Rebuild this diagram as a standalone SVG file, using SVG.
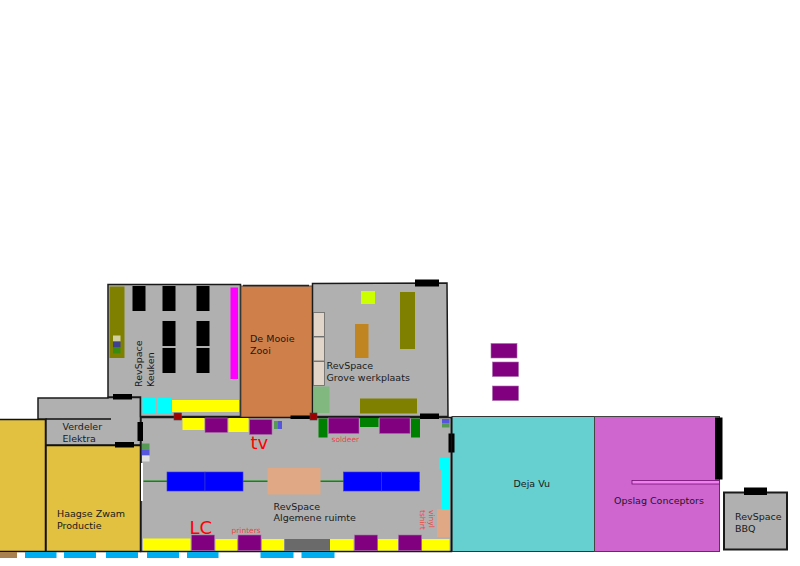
<svg xmlns="http://www.w3.org/2000/svg" width="800" height="566" viewBox="0 0 800 566">
<style>
text{font-family:"DejaVu Sans",sans-serif;font-size:9.5px;fill:#1a1a1a}
.room{fill:#b0b0b0;stroke:#1a1a1a;stroke-width:1.5}
.wall{fill:none;stroke:#111;stroke-width:1.5}
.k{fill:#000}.p{fill:#800080;stroke:#a86aa8;stroke-width:.6}.y{fill:#ff0}.c{fill:#0ff}.o{fill:#808000}.g{fill:#008000}.b{fill:#00f;stroke:#3a3ad0;stroke-width:.6}
.r{fill:#a00000;stroke:#444;stroke-width:.6}.w{fill:#00aeef}.s{fill:#e0d5c8;stroke:#666;stroke-width:.8}
.red{fill:#ee4444;font-size:7.5px}.big{fill:#ff0000;font-size:18px}
</style>
<g id="room-haagse-left"><rect x="-2" y="419.500" width="47.500" height="132" fill="#e2c040" stroke="#111" stroke-width="1.500"/></g>
<g id="room-verdeler">
<path class="room" d="M38 419V398H108V397.500H140.500V445H46V419Z"/>
<path class="wall" d="M45.500 419H111"/>
<text x="62.500" y="429.500">Verdeler</text><text x="62.500" y="442">Elektra</text>
</g>
<g id="room-haagse"><rect x="46" y="445.500" width="94.500" height="106" fill="#e2c040" stroke="#111" stroke-width="1.500"/>
<text x="57" y="516.500">Haagse Zwam</text><text x="57" y="529">Productie</text></g>
<g id="room-keuken">
<path class="room" d="M108 284.500H240.500V416.500H140.500V397H108Z"/>
<rect class="o" x="109.500" y="286.500" width="15" height="71.500"/>
<rect x="113" y="335.500" width="7.500" height="6" fill="#d0d0a0"/><rect x="113" y="341.500" width="7.500" height="6" fill="#404090"/><rect x="113" y="347.500" width="7.500" height="6" fill="#3a8a10"/>
<rect class="k" x="132.500" y="286" width="13" height="25"/><rect class="k" x="162.500" y="286" width="13" height="25"/><rect class="k" x="196.500" y="286" width="13" height="25"/>
<rect class="k" x="162.500" y="321" width="13" height="25"/><rect class="k" x="196.500" y="321" width="13" height="25"/>
<rect class="k" x="162.500" y="348" width="13" height="25"/><rect class="k" x="196.500" y="348" width="13" height="25"/>
<rect x="230.500" y="287.500" width="7.500" height="91.500" fill="#f0f"/>
<rect class="c" x="142.500" y="398" width="13.500" height="15"/><rect class="c" x="157" y="398" width="14" height="15"/><rect class="y" x="172" y="400" width="67" height="12"/>
<text transform="translate(142 387) rotate(-90)">RevSpace</text><text transform="translate(153.500 387) rotate(-90)">Keuken</text>
</g>
<g id="room-mooie-zooi"><rect x="241" y="286" width="71.500" height="132" fill="#cf7f4a" stroke="#555" stroke-width="1"/>
<path d="M243 285.500H309" stroke="#222" stroke-width="1.500"/>
<text x="250" y="342">De Mooie</text><text x="250" y="354">Zooi</text></g>
<g id="room-grove">
<path class="room" d="M312.500 283.500L447 283L448 416.500H312.500Z"/>
<rect x="361" y="291" width="14" height="13" fill="#cf0"/>
<rect class="o" x="400" y="292" width="15" height="57"/>
<rect x="355" y="324" width="13.500" height="34" fill="#c08520"/>
<rect class="s" x="313.500" y="312.500" width="11" height="24"/><rect class="s" x="313.500" y="337" width="11" height="24"/><rect class="s" x="313.500" y="361.500" width="11" height="24"/>
<rect x="313.500" y="386.500" width="16" height="26.500" fill="#80b880"/>
<rect class="o" x="360" y="398.500" width="57" height="15"/>
<text x="326.500" y="369">RevSpace</text><text x="326.500" y="381">Grove werkplaats</text>
<rect class="k" x="415" y="279.500" width="24" height="7"/>
</g>
<g id="room-algemeen">
<path class="room" d="M141 417.500H451.500V551.500H141Z"/>
<rect class="y" x="182.500" y="418" width="22" height="12"/><rect class="p" x="205" y="418" width="22.500" height="14.500"/><rect class="y" x="228.500" y="418" width="20" height="14"/><rect class="p" x="249.500" y="419.500" width="22.500" height="15"/>
<rect x="274" y="421" width="4" height="8" fill="#559955"/><rect x="278" y="421" width="4" height="8" fill="#5555dd"/>
<rect class="g" x="318.500" y="418.500" width="9" height="19"/><rect class="p" x="328.500" y="418" width="30.500" height="15.500"/><rect class="g" x="360" y="418" width="18.500" height="9"/><rect class="p" x="379.500" y="418" width="30.500" height="15.500"/><rect class="g" x="411" y="418.500" width="9" height="19"/>
<rect x="442" y="419" width="7.500" height="4.500" fill="#5555dd"/><rect x="442" y="423.500" width="7.500" height="4" fill="#559955"/>
<rect x="142" y="443.500" width="7.500" height="6" fill="#559955"/><rect x="142" y="449.500" width="7.500" height="6" fill="#5555dd"/><rect x="142" y="455.500" width="7.500" height="6" fill="#e0e0e0"/>
<path d="M143.500 481.300H420" stroke="#0a8a0a" stroke-width="1.500"/>
<rect class="b" x="167" y="472" width="38" height="19"/><rect class="b" x="205" y="472" width="38" height="19"/>
<rect class="b" x="343.500" y="472" width="38" height="19"/><rect class="b" x="381.500" y="472" width="38" height="19"/>
<rect x="267.500" y="468" width="53" height="26.500" fill="#e0a884"/>
<rect class="c" x="439" y="458" width="11" height="11"/><rect class="c" x="441" y="469" width="9" height="40"/>
<rect x="437" y="509" width="13" height="28" fill="#e0a884"/>
<rect class="y" x="143" y="538.500" width="47.500" height="12"/><rect class="p" x="191.500" y="535" width="23" height="15.500"/><rect class="y" x="215.500" y="539" width="21.500" height="11.500"/><rect class="p" x="238" y="535" width="23" height="15.500"/><rect class="y" x="262" y="539" width="22" height="11.500"/>
<rect x="284.500" y="539" width="45.500" height="11.500" fill="#6a6a6a"/><rect class="y" x="330" y="539" width="23.500" height="11.500"/><rect class="p" x="354.500" y="535" width="23" height="15.500"/><rect class="y" x="378" y="539" width="20" height="11.500"/><rect class="p" x="398.500" y="535" width="23" height="15.500"/><rect class="y" x="422" y="539" width="27.500" height="11.500"/>
<text x="273.500" y="509.500">RevSpace</text><text x="273.500" y="521">Algemene ruimte</text>
<text class="big" x="250.500" y="448.500">tv</text><text class="big" x="189.500" y="533.500">LC</text>
<text class="red" x="331.500" y="441.500">soldeer</text><text class="red" x="231.500" y="532.500">printers</text>
<text class="red" transform="translate(429 510) rotate(90)" style="font-size:7.500px">vinyl</text><text class="red" transform="translate(419.500 510) rotate(90)" style="font-size:7.500px">tshirt</text>
</g>
<g id="room-deja-vu"><rect x="452" y="416.500" width="142.500" height="135" fill="#66cfcf" stroke="#333" stroke-width="1"/>
<text x="513.500" y="487">Deja Vu</text></g>
<g id="room-opslag"><rect x="594.500" y="416.500" width="125" height="135" fill="#cf66cf" stroke="#444" stroke-width="1"/>
<rect x="632" y="480.500" width="87.500" height="3.500" fill="#f080f0" stroke="#701070" stroke-width=".8"/>
<rect class="k" x="715" y="417.500" width="7.500" height="62"/>
<text x="614" y="504">Opslag Conceptors</text></g>
<g id="room-bbq"><rect class="room" style="stroke-width:2" x="724" y="492.500" width="63" height="57"/>
<rect class="k" x="744" y="487.500" width="23" height="7.500"/>
<text x="735" y="519.500">RevSpace</text><text x="735" y="531.500">BBQ</text></g>
<g id="loose-furniture"><rect class="p" x="491" y="343.500" width="26" height="14.500"/><rect class="p" x="492.500" y="362" width="26" height="14.500"/><rect class="p" x="492.500" y="386" width="26" height="14.500"/></g>
<g id="connectors">
<rect class="k" x="113" y="394" width="19" height="5.500"/>
<rect class="k" x="137.500" y="422" width="5.500" height="19"/>
<rect class="k" x="115" y="442" width="19" height="5.500"/>
<rect x="141" y="463" width="2" height="38" fill="#fff"/>
<rect class="k" x="290.500" y="415.500" width="20" height="3.500"/>
<rect class="k" x="420" y="413.500" width="19" height="5.500"/>
<rect class="k" x="448.500" y="433.500" width="6" height="19"/>
<path d="M451.500 417V551.500" stroke="#111" stroke-width="1.500"/>
<rect class="r" x="174" y="413" width="7.500" height="7"/><rect class="r" x="310" y="413" width="7" height="7"/>
</g>
<g id="windows">
<rect x="0" y="552" width="17" height="6" fill="#a88050"/>
<rect class="w" x="25" y="552" width="31.500" height="6"/><rect class="w" x="64" y="552" width="32" height="6"/><rect class="w" x="106" y="552" width="32" height="6"/><rect class="w" x="147" y="552" width="32" height="6"/><rect class="w" x="187" y="552" width="31.500" height="6"/><rect class="w" x="260.500" y="552" width="33" height="6"/><rect class="w" x="301.500" y="552" width="33" height="6"/>
</g>
</svg>
